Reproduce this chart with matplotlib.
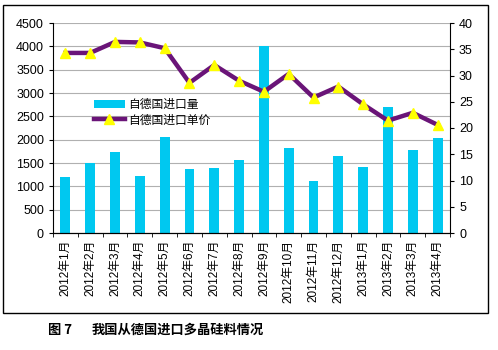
import matplotlib
matplotlib.use("Agg")
import matplotlib.pyplot as plt
import numpy as np
from matplotlib.patches import Rectangle

plt.rcParams['font.family'] = ['Liberation Sans', 'Noto Sans CJK SC', 'DejaVu Sans']

months = ["2012年1月", "2012年2月", "2012年3月", "2012年4月", "2012年5月", "2012年6月",
          "2012年7月", "2012年8月", "2012年9月", "2012年10月", "2012年11月", "2012年12月",
          "2013年1月", "2013年2月", "2013年3月", "2013年4月"]
volume = [1200, 1500, 1740, 1220, 2060, 1370, 1400, 1560, 4000, 1820, 1120, 1660,
          1420, 2700, 1780, 2040]
price = [34.3, 34.3, 36.4, 36.3, 35.2, 28.6, 32.0, 29.0, 26.9, 30.3, 25.8, 27.9,
         24.5, 21.4, 22.9, 20.6]
left_ticks = [0, 500, 1000, 1500, 2000, 2500, 3000, 3500, 4000, 4500]
right_ticks = [0, 5, 10, 15, 20, 25, 30, 35, 40]

fig = plt.figure(figsize=(4.98, 3.5), dpi=100)
fig.patch.set_facecolor('white')
ax = fig.add_axes([53/498, 1-233/350, (450-53)/498, (233-23)/350])
ax2 = ax.twinx()

x = np.arange(len(months))
ax.bar(x, volume, width=0.4, color='#00C8F0', zorder=2, label='自德国进口量')
ax.set_ylim(0, 4500)
ax.set_yticks(left_ticks)
ax.set_xlim(-0.5, len(months)-0.5)
ax.yaxis.grid(True, color='#B0B0B0', linewidth=0.8, zorder=0)
ax.set_axisbelow(True)
ax.set_xticks(x)
ax.set_xticklabels(months, rotation=90, fontsize=8.5)
ax.tick_params(axis='x', length=0, pad=5)
ax.set_xticks(np.arange(-0.5, len(months), 1), minor=True)
ax.tick_params(axis='x', which='minor', length=3, direction='out')
ax.tick_params(axis='y', labelsize=9, length=3, direction='out')

ln, = ax2.plot(x, price, color='#6A1478', linewidth=3.2, marker='^', markersize=7,
               markerfacecolor='#FFFF00', markeredgecolor='#FFFF00', zorder=3,
               label='自德国进口单价')
ax2.set_ylim(0, 40)
ax2.set_yticks(right_ticks)
ax2.tick_params(axis='y', labelsize=9, length=3, direction='out')

for a in (ax, ax2):
    a.spines['top'].set_visible(False)
ax.spines['right'].set_visible(False)
ax2.spines['left'].set_visible(False)

handles = [ax.containers[0], ln]
leg = fig.legend(handles, ['自德国进口量', '自德国进口单价'], loc='upper left',
                 bbox_to_anchor=(88/498, 1-93/350), frameon=False, fontsize=8.5,
                 handlelength=2.6, labelspacing=0.3, borderpad=0, handletextpad=0.3)

fig.patches.append(Rectangle((3/498, 1-313/350), (488-3)/498, (313-5)/350,
                             transform=fig.transFigure, fill=False,
                             edgecolor='black', linewidth=1.0))

fig.text(48/498, 1-330/350, '图 7', fontsize=9.5, fontweight='bold', va='center',
         family=['Noto Sans CJK SC'])
fig.text(92/498, 1-330/350, '我国从德国进口多晶硅料情况', fontsize=9.5, fontweight='bold',
         va='center', family=['Noto Sans CJK SC'])

fig.savefig('out.png', dpi=100)
